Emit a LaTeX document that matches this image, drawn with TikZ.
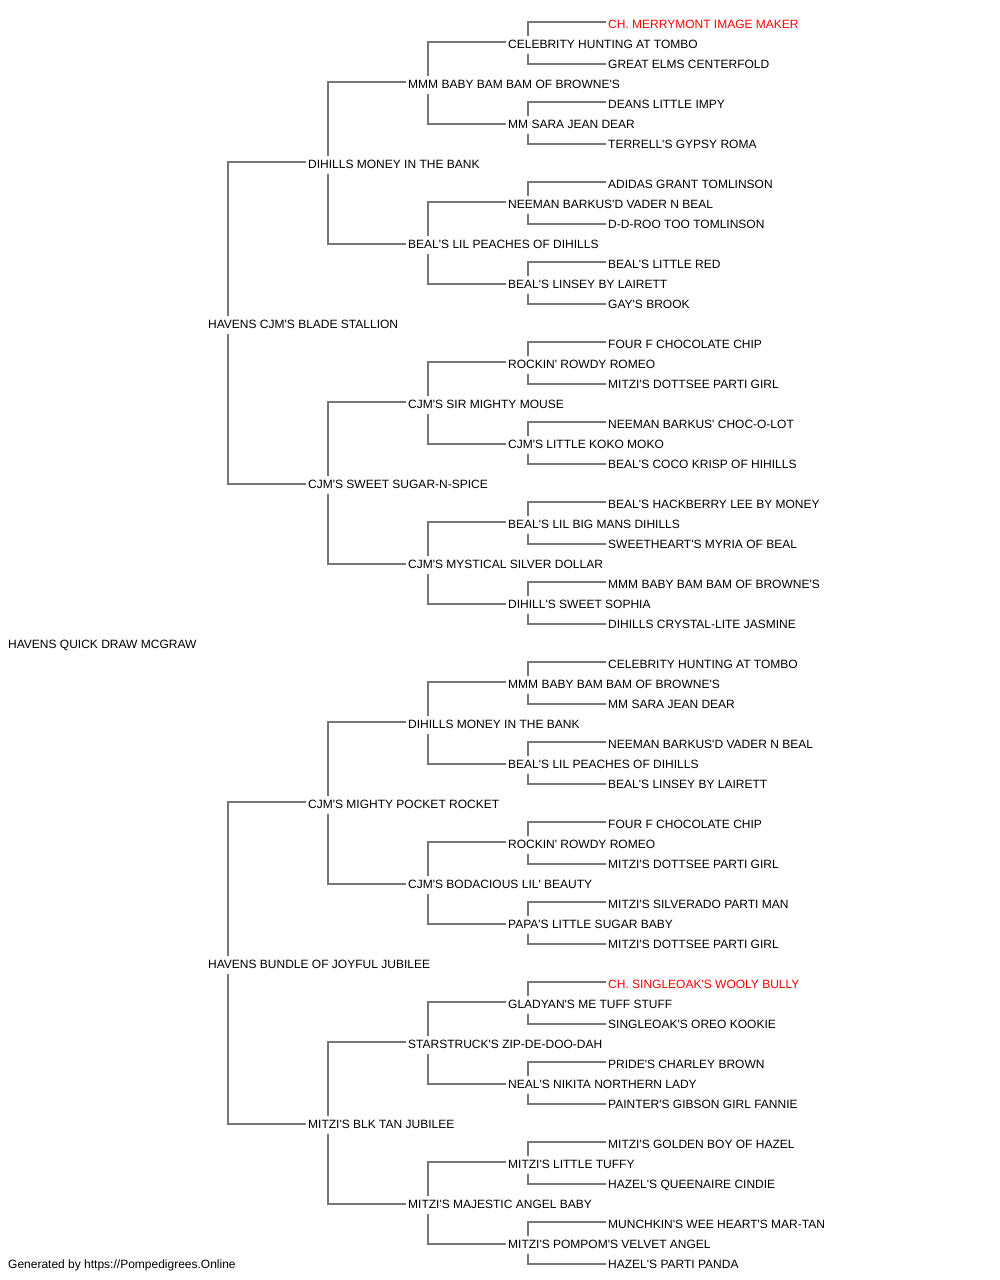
\documentclass[tikz,border=0pt]{standalone}
\usepackage{fontspec}
\setmainfont{Liberation Sans}[Ligatures=TeXOff]
\definecolor{linegray}{HTML}{777777}
\definecolor{redname}{HTML}{FF0000}
\newcommand\pn[4]{\node[pnode] (#1) at ({#2-2},{#3+2}) {#4};}
\newcommand\pr[4]{\node[pnode,text=redname] (#1) at ({#2-2},{#3+2}) {#4};}
\newcommand\cn[3]{%
  \draw[conn] ([yshift=3pt]#2.west) -| ([xshift=22pt]#1.north west);
  \draw[conn] ([xshift=22pt]#1.south west) |- ([yshift=1pt]#3.west);}
\begin{document}
\begin{tikzpicture}[x=1pt,y=-1pt,
  pnode/.style={anchor=west, inner xsep=2pt, inner ysep=3.7pt, text height=8.6pt, text depth=2pt,
    font=\fontsize{12}{14}\selectfont, text=black},
  conn/.style={draw=linegray, line width=1.5pt}]
\useasboundingbox (0,0) rectangle (1000,1280);
% level 0
\pn{a0}{8}{643}{HAVENS QUICK DRAW MCGRAW}
% level 1
\pn{b0}{208}{323}{HAVENS CJM'S BLADE STALLION}
\pn{b1}{208}{963}{HAVENS BUNDLE OF JOYFUL JUBILEE}
% level 2
\pn{c0}{308}{163}{DIHILLS MONEY IN THE BANK}
\pn{c1}{308}{483}{CJM'S SWEET SUGAR-N-SPICE}
\pn{c2}{308}{803}{CJM'S MIGHTY POCKET ROCKET}
\pn{c3}{308}{1123}{MITZI'S BLK TAN JUBILEE}
% level 3
\pn{d0}{408}{83}{MMM BABY BAM BAM OF BROWNE'S}
\pn{d1}{408}{243}{BEAL'S LIL PEACHES OF DIHILLS}
\pn{d2}{408}{403}{CJM'S SIR MIGHTY MOUSE}
\pn{d3}{408}{563}{CJM'S MYSTICAL SILVER DOLLAR}
\pn{d4}{408}{723}{DIHILLS MONEY IN THE BANK}
\pn{d5}{408}{883}{CJM'S BODACIOUS LIL' BEAUTY}
\pn{d6}{408}{1043}{STARSTRUCK'S ZIP-DE-DOO-DAH}
\pn{d7}{408}{1203}{MITZI'S MAJESTIC ANGEL BABY}
% level 4
\pn{e0}{508}{43}{CELEBRITY HUNTING AT TOMBO}
\pn{e1}{508}{123}{MM SARA JEAN DEAR}
\pn{e2}{508}{203}{NEEMAN BARKUS'D VADER N BEAL}
\pn{e3}{508}{283}{BEAL'S LINSEY BY LAIRETT}
\pn{e4}{508}{363}{ROCKIN' ROWDY ROMEO}
\pn{e5}{508}{443}{CJM'S LITTLE KOKO MOKO}
\pn{e6}{508}{523}{BEAL'S LIL BIG MANS DIHILLS}
\pn{e7}{508}{603}{DIHILL'S SWEET SOPHIA}
\pn{e8}{508}{683}{MMM BABY BAM BAM OF BROWNE'S}
\pn{e9}{508}{763}{BEAL'S LIL PEACHES OF DIHILLS}
\pn{e10}{508}{843}{ROCKIN' ROWDY ROMEO}
\pn{e11}{508}{923}{PAPA'S LITTLE SUGAR BABY}
\pn{e12}{508}{1003}{GLADYAN'S ME TUFF STUFF}
\pn{e13}{508}{1083}{NEAL'S NIKITA NORTHERN LADY}
\pn{e14}{508}{1163}{MITZI'S LITTLE TUFFY}
\pn{e15}{508}{1243}{MITZI'S POMPOM'S VELVET ANGEL}
% level 5
\pr{f0}{608}{23}{CH. MERRYMONT IMAGE MAKER}
\pn{f1}{608}{63}{GREAT ELMS CENTERFOLD}
\pn{f2}{608}{103}{DEANS LITTLE IMPY}
\pn{f3}{608}{143}{TERRELL'S GYPSY ROMA}
\pn{f4}{608}{183}{ADIDAS GRANT TOMLINSON}
\pn{f5}{608}{223}{D-D-ROO TOO TOMLINSON}
\pn{f6}{608}{263}{BEAL'S LITTLE RED}
\pn{f7}{608}{303}{GAY'S BROOK}
\pn{f8}{608}{343}{FOUR F CHOCOLATE CHIP}
\pn{f9}{608}{383}{MITZI'S DOTTSEE PARTI GIRL}
\pn{f10}{608}{423}{NEEMAN BARKUS' CHOC-O-LOT}
\pn{f11}{608}{463}{BEAL'S COCO KRISP OF HIHILLS}
\pn{f12}{608}{503}{BEAL'S HACKBERRY LEE BY MONEY}
\pn{f13}{608}{543}{SWEETHEART'S MYRIA OF BEAL}
\pn{f14}{608}{583}{MMM BABY BAM BAM OF BROWNE'S}
\pn{f15}{608}{623}{DIHILLS CRYSTAL-LITE JASMINE}
\pn{f16}{608}{663}{CELEBRITY HUNTING AT TOMBO}
\pn{f17}{608}{703}{MM SARA JEAN DEAR}
\pn{f18}{608}{743}{NEEMAN BARKUS'D VADER N BEAL}
\pn{f19}{608}{783}{BEAL'S LINSEY BY LAIRETT}
\pn{f20}{608}{823}{FOUR F CHOCOLATE CHIP}
\pn{f21}{608}{863}{MITZI'S DOTTSEE PARTI GIRL}
\pn{f22}{608}{903}{MITZI'S SILVERADO PARTI MAN}
\pn{f23}{608}{943}{MITZI'S DOTTSEE PARTI GIRL}
\pr{f24}{608}{983}{CH. SINGLEOAK'S WOOLY BULLY}
\pn{f25}{608}{1023}{SINGLEOAK'S OREO KOOKIE}
\pn{f26}{608}{1063}{PRIDE'S CHARLEY BROWN}
\pn{f27}{608}{1103}{PAINTER'S GIBSON GIRL FANNIE}
\pn{f28}{608}{1143}{MITZI'S GOLDEN BOY OF HAZEL}
\pn{f29}{608}{1183}{HAZEL'S QUEENAIRE CINDIE}
\pn{f30}{608}{1223}{MUNCHKIN'S WEE HEART'S MAR-TAN}
\pn{f31}{608}{1263}{HAZEL'S PARTI PANDA}
% footer
\pn{foot}{8}{1263}{Generated by https://Pompedigrees.Online}
% connectors
\cn{b0}{c0}{c1}
\cn{b1}{c2}{c3}
\cn{c0}{d0}{d1}
\cn{c1}{d2}{d3}
\cn{c2}{d4}{d5}
\cn{c3}{d6}{d7}
\cn{d0}{e0}{e1}
\cn{d1}{e2}{e3}
\cn{d2}{e4}{e5}
\cn{d3}{e6}{e7}
\cn{d4}{e8}{e9}
\cn{d5}{e10}{e11}
\cn{d6}{e12}{e13}
\cn{d7}{e14}{e15}
\cn{e0}{f0}{f1}
\cn{e1}{f2}{f3}
\cn{e2}{f4}{f5}
\cn{e3}{f6}{f7}
\cn{e4}{f8}{f9}
\cn{e5}{f10}{f11}
\cn{e6}{f12}{f13}
\cn{e7}{f14}{f15}
\cn{e8}{f16}{f17}
\cn{e9}{f18}{f19}
\cn{e10}{f20}{f21}
\cn{e11}{f22}{f23}
\cn{e12}{f24}{f25}
\cn{e13}{f26}{f27}
\cn{e14}{f28}{f29}
\cn{e15}{f30}{f31}
\end{tikzpicture}
\end{document}
